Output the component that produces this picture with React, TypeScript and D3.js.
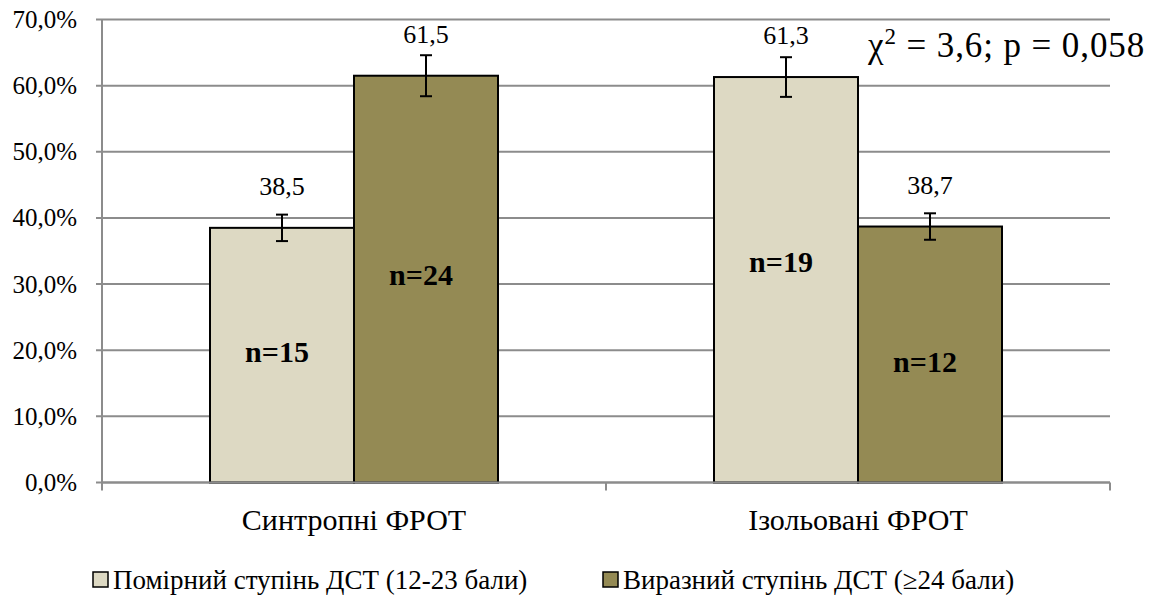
import React from "react";
import * as d3 from "d3";

const categories = ["Синтропні ФРОТ", "Ізольовані ФРОТ"];
const seriesNames = ["Помірний ступінь ДСТ (12-23 бали)", "Виразний ступінь ДСТ (≥24 бали)"];
const moderate = [38.5, 61.3];
const severe = [61.5, 38.7];
const moderateErr = [2.0, 3.0];
const severeErr = [3.1, 2.0];
const moderateN = [15, 19];
const severeN = [24, 12];
const moderateNAt = [19.8, 33.4];
const severeNAt = [31.4, 18.3];
const yTicks = [0, 10, 20, 30, 40, 50, 60, 70];
const statText = { chi: "3,6", p: "0,058" };

const colors = ["#DDD9C3", "#948A54"];

export default function App() {
  const W = 1160, H = 598;
  const left = 102, right = 1110, top = 19.5, bottom = 482.5;
  const y = d3.scaleLinear().domain([0, 70]).range([bottom, top]);
  const x0 = d3.scaleBand<string>().domain(categories).range([left, right]).padding(0);
  const x1 = d3.scaleBand<string>().domain(seriesNames).range([0, x0.bandwidth()]).paddingInner(0).paddingOuter(0.75);
  const series = [
    { name: seriesNames[0], values: moderate, err: moderateErr, n: moderateN, nAt: moderateNAt, color: colors[0] },
    { name: seriesNames[1], values: severe, err: severeErr, n: severeN, nAt: severeNAt, color: colors[1] },
  ];
  const fmt = (v: number) => v.toFixed(1).replace(".", ",");
  const grid = "#8C8C8C";
  const T = (props: any) => <text {...props} style={{ fontFamily: "Liberation Serif", ...(props.style || {}) }} />;
  return (
    <svg width={W} height={H} style={{ position: "absolute", left: 0, top: 0 }}>
      {yTicks.map((t) => (
        <g key={t}>
          <line x1={left - 6} x2={right} y1={y(t)} y2={y(t)} stroke={grid} strokeWidth={2} />
          <T x={77} y={y(t) + 8.5} textAnchor="end" fontSize={25} fill="#000">
            {fmt(t) + "%"}
          </T>
        </g>
      ))}
      <line x1={left} x2={left} y1={top} y2={bottom} stroke={grid} strokeWidth={2} />
      {[left, ...categories.map((c) => (x0(c) as number) + x0.bandwidth())].map((tx, i) => (
        <line key={i} x1={tx} x2={tx} y1={bottom} y2={bottom + 8} stroke={grid} strokeWidth={2} />
      ))}
      {categories.map((c, ci) => (
        <g key={c}>
          {series.map((s) => {
            const bx = (x0(c) as number) + (x1(s.name) as number);
            const bw = x1.bandwidth();
            const v = s.values[ci];
            const cx = bx + bw / 2;
            return (
              <g key={s.name}>
                <rect x={bx} y={y(v)} width={bw} height={y(0) - y(v)} fill={s.color} stroke="#000" strokeWidth={2} />
                <line x1={cx} x2={cx} y1={y(v + s.err[ci])} y2={y(v - s.err[ci])} stroke="#000" strokeWidth={2} />
                <line x1={cx - 6} x2={cx + 6} y1={y(v + s.err[ci])} y2={y(v + s.err[ci])} stroke="#000" strokeWidth={2} />
                <line x1={cx - 6} x2={cx + 6} y1={y(v - s.err[ci])} y2={y(v - s.err[ci])} stroke="#000" strokeWidth={2} />
                <T x={cx} y={y(v) - 33} textAnchor="middle" fontSize={26} fill="#000">
                  {fmt(v)}
                </T>
                <T x={cx - 5} y={y(s.nAt[ci]) + 10.5} textAnchor="middle" fontSize={30} fontWeight="bold" fill="#000">
                  {"n=" + s.n[ci]}
                </T>
              </g>
            );
          })}
          <T x={(x0(c) as number) + x0.bandwidth() / 2} y={530} textAnchor="middle" fontSize={30} fill="#000">
            {c}
          </T>
        </g>
      ))}
      <line x1={left} x2={right} y1={bottom} y2={bottom} stroke={grid} strokeWidth={2} />
      <T x={868} y={57} fontSize={35} fill="#000" style={{ letterSpacing: "0.9px" }}>
        <tspan>χ</tspan>
        <tspan dy={-13} fontSize={23}>2</tspan>
        <tspan dy={13}>{" = " + statText.chi + "; p = " + statText.p}</tspan>
      </T>
      {series.map((s, i) => {
        const lx = i === 0 ? 93 : 603;
        return (
          <g key={s.name}>
            <rect x={lx} y={572} width={15} height={15} fill={s.color} stroke="#000" strokeWidth={1.5} />
            <T x={lx + 20} y={589} fontSize={27} fill="#000">
              {s.name}
            </T>
          </g>
        );
      })}
    </svg>
  );
}
